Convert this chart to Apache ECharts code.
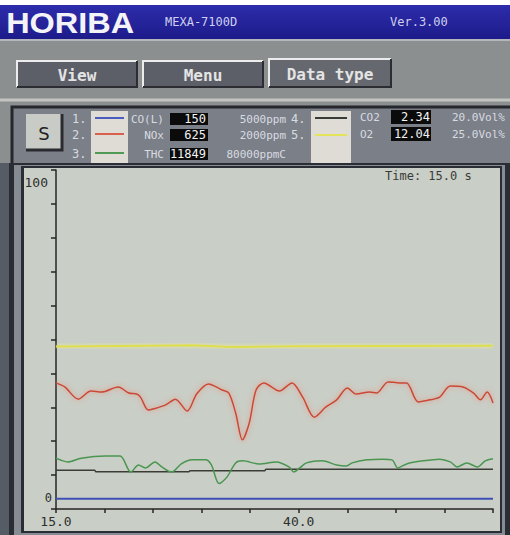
<!DOCTYPE html>
<html>
<head>
<meta charset="utf-8">
<script src="https://cdn.jsdelivr.net/npm/echarts@6/dist/echarts.min.js"></script>
<style>
  html, body { margin: 0; padding: 0; background: #ffffff; }
  #c { width: 510px; height: 535px; }
</style>
</head>
<body>
<div id="c"></div>
<script>
// Channel readouts shown in the header panel
const channelNames = ['CO(L)', 'NOx', 'THC', 'CO2', 'O2'];
const channelReadings = ['150', '625', '11849', '2.34', '12.04'];
const channelRanges = ['5000ppm', '2000ppm', '80000ppmC', '20.0Vol%', '25.0Vol%'];

// Axis tick labels
const xTickLabels = [15, 40];
const yTickLabels = [0, 100];

// Traces: elapsed time (s) and value in % of the channel's full scale
const coTime = [15, 60];
const coValue = [3, 3];

const noxTime = [15.0, 15.9, 17.3, 18.6, 19.7, 21.4, 22.5, 23.3, 23.7, 24.5, 25.0, 26.3, 27.3, 28.5, 29.5,
                 30.7, 32.1, 32.8, 33.5, 34.2, 34.9, 35.6, 36.4, 38.0, 39.3, 40.4, 41.6, 42.8, 43.9, 45.0,
                 45.9, 47.3, 48.0, 49.2, 50.4, 51.1, 52.3, 53.5, 54.5, 55.6, 56.9, 58.0, 58.7, 59.4, 60.0];
const noxValue = [37.2, 36.0, 32.4, 34.8, 34.5, 36.0, 34.2, 33.9, 33.0, 29.2, 29.5, 30.7, 32.4, 28.9, 34.0,
                  36.9, 35.1, 34.2, 28.3, 20.4, 25.4, 35.1, 37.2, 34.8, 37.2, 33.0, 27.1, 30.1, 32.2, 35.7,
                  33.9, 34.5, 34.2, 37.5, 37.2, 37.2, 31.6, 32.2, 33.0, 36.3, 36.0, 34.2, 32.2, 34.5, 31.25];

const thcTime = [15.0, 16.2, 17.6, 20.1, 21.6, 22.7, 23.5, 24.2, 25.2, 25.9, 26.9, 27.9, 29.0, 30.4, 31.0,
                 31.8, 32.6, 33.5, 34.2, 35.9, 37.7, 39.0, 39.5, 40.1, 40.8, 42.4, 43.9, 44.9, 45.5, 47.0,
                 48.6, 49.6, 50.2, 51.1, 52.8, 54.5, 55.6, 56.3, 57.3, 58.4, 59.2, 60.0];
const thcValue = [15.0, 13.9, 15.0, 15.6, 15.6, 10.9, 13.0, 12.1, 13.9, 12.4, 10.9, 13.3, 14.5, 14.5, 13.0,
                  7.5, 9.4, 13.6, 14.2, 13.3, 13.9, 12.4, 10.9, 12.1, 13.6, 14.2, 13.0, 12.7, 13.6, 14.5,
                  14.7, 14.5, 12.1, 13.3, 14.2, 14.7, 13.9, 12.4, 13.6, 12.4, 14.2, 14.8];

const co2Time = [15.0, 19.0, 19.1, 28.7, 28.8, 36.5, 36.6, 60.0];
const co2Value = [11.4, 11.4, 11.0, 11.0, 11.3, 11.3, 11.7, 11.7];

const o2Time = [15.0, 22.0, 29.0, 33.0, 40.0, 50.0, 60.0];
const o2Value = [47.9, 48.1, 48.3, 47.8, 48.0, 48.1, 48.16];

const pairs = (t, v) => t.map((x, i) => [x, v[i]]);

const MONO = "'DejaVu Sans Mono', monospace";

// ---------- screen furniture ----------
const g = [];
const rect = (x, y, w, h, fill, extra) => g.push(Object.assign({ type: 'rect', shape: { x, y, width: w, height: h }, style: { fill }, silent: true }, extra || {}));
const text = (x, y, str, st, extra) => g.push(Object.assign({ type: 'text', x, y, silent: true,
  style: Object.assign({ text: str, fill: '#d8dbe2', font: '11px ' + MONO, textVerticalAlign: 'middle', verticalAlign: 'middle' }, st || {}) }, extra || {}));
const line = (x1, y1, x2, y2, stroke, w) => g.push({ type: 'line', silent: true, shape: { x1, y1, x2, y2 }, style: { stroke, lineWidth: w } });

// title bar
rect(0, 5, 510, 34, new echarts.graphic.LinearGradient(0, 0, 0, 1, [
  { offset: 0, color: '#2d2cab' }, { offset: 1, color: '#1d1b8a' }]));
text(7, 23, 'HORIBA', { fill: '#f4f4f8', font: "bold 29px 'Liberation Sans', sans-serif" }, { scaleX: 1.12, originX: 7, originY: 23 });
text(165, 22, 'MEXA-7100D', { fill: '#cfd0ee', font: '12px ' + MONO });
text(390, 22, 'Ver.3.00', { fill: '#cfd0ee', font: '12px ' + MONO });

// menu strip
rect(0, 39, 510, 126, '#8b8f8f');
line(0, 40, 510, 40, '#b4b6bc', 2);
line(0, 100, 510, 100, '#c2c4c2', 3);

function button(x, y, w, h, label, fill) {
  rect(x, y, w, h, fill);
  g.push({ type: 'polyline', silent: true, shape: { points: [[x, y + h], [x, y], [x + w, y]] }, style: { stroke: '#ececec', lineWidth: 2, fill: null } });
  g.push({ type: 'polyline', silent: true, shape: { points: [[x + w, y], [x + w, y + h], [x, y + h]] }, style: { stroke: '#2c2d33', lineWidth: 2, fill: null } });
  text(x + w / 2, y + h / 2 + 1, label, { fill: '#e4e4e4', font: 'bold 16px ' + MONO, align: 'center', textAlign: 'center' });
}
button(17, 61, 120, 26, 'View', '#5d5f68');
button(143, 61, 120, 26, 'Menu', '#5d5f68');
button(269, 59, 122, 28, 'Data type', '#666870');

// channel panel
rect(12, 107, 500, 58, '#7b7f87', { style: { fill: '#7b7f87', stroke: '#25272d', lineWidth: 3 } });
rect(26, 114, 36, 36, '#c9ccc6');
g.push({ type: 'polyline', silent: true, shape: { points: [[62, 114], [62, 150], [26, 150]] }, style: { stroke: '#2a2b30', lineWidth: 3, fill: null } });
text(44, 133, 'S', { fill: '#222', font: "18px 'DejaVu Sans', sans-serif", align: 'center', textAlign: 'center' });

const swatchColors = ['#4a5cc0', '#d9604c', '#4f9a55', '#3a3a36', '#e4e45a'];
rect(91, 111, 37, 52, '#dedcd5');
rect(311, 111, 40, 52, '#dedcd5');
const rowA = [119, 135, 154];
for (let i = 0; i < 3; i++) {
  const y = rowA[i];
  text(72, y, (i + 1) + '.', { font: '12px ' + MONO });
  line(95, y - 1, 124, y - 1, swatchColors[i], 2);
  text(164, y, channelNames[i], { align: 'right', textAlign: 'right' });
  rect(170, y - 6, 38, 12, '#0b0b0b');
  text(206, y, channelReadings[i], { fill: '#f2f2f2', font: '12px ' + MONO, align: 'right', textAlign: 'right' });
  text(286, y, channelRanges[i], { align: 'right', textAlign: 'right' });
}
const rowB = [117, 134];
for (let i = 0; i < 2; i++) {
  const y = rowB[i];
  text(291, rowA[i], (i + 4) + '.', { font: '12px ' + MONO });
  line(315, y + 1, 347, y + 1, swatchColors[3 + i], 2);
  text(360, y, channelNames[3 + i], {});
  rect(391, y - 7, 40, 14, '#0b0b0b');
  text(430, y, channelReadings[3 + i], { fill: '#f2f2f2', font: '12px ' + MONO, align: 'right', textAlign: 'right' });
  text(452, y, channelRanges[3 + i], {});
}

// chart frame
rect(0, 163, 510, 372, '#565c66');
rect(9, 163, 501, 372, '#2a2d34');
rect(14, 165, 491, 370, '#868c94');
rect(21, 166, 481, 367, '#2a2d34');
rect(24, 168, 476, 363, '#c9cec6');
text(385, 176, 'Time: 15.0 s', { fill: '#3a3a3a', font: '12px ' + MONO });

// ---------- chart ----------
const chart = echarts.init(document.getElementById('c'), null, { renderer: 'svg' });
chart.setOption({
  animation: false,
  backgroundColor: 'transparent',
  graphic: { elements: g },
  grid: { left: 56, right: 17, top: 170, bottom: 26 },
  xAxis: {
    type: 'value', min: 15, max: 60, interval: 5,
    axisLine: { lineStyle: { color: '#262626', width: 1.5 } },
    axisTick: { length: 4, lineStyle: { color: '#262626', width: 1.5 } },
    splitLine: { show: false },
    axisLabel: {
      margin: 6, color: '#2e2e2e', fontSize: 13, fontFamily: MONO,
      formatter: v => xTickLabels.includes(v) ? v.toFixed(1) : ''
    }
  },
  yAxis: {
    type: 'value', min: 0, max: 100, interval: 10,
    axisLine: { show: true, lineStyle: { color: '#262626', width: 1.5 } },
    axisTick: { show: true, length: 5, lineStyle: { color: '#262626', width: 1.5 } },
    splitLine: { show: false },
    axisLabel: {
      margin: 4, color: '#2e2e2e', fontSize: 12, fontFamily: MONO,
      formatter: v => !yTickLabels.includes(v) ? '' : (v === 100 ? '{top|' + v + '}' : '{bot|' + v + '}'),
      rich: {
        top: { padding: [24, 4, 0, 0], fontSize: 13, fontFamily: MONO, color: '#2e2e2e' },
        bot: { padding: [0, 0, 22, 0], fontSize: 12, fontFamily: MONO, color: '#2e2e2e' }
      }
    }
  },
  series: [
    { name: 'CO(L)', type: 'line', data: pairs(coTime, coValue), showSymbol: false,
      lineStyle: { color: '#3e50b6', width: 2 } },
    { name: 'CO2', type: 'line', data: pairs(co2Time, co2Value), showSymbol: false,
      lineStyle: { color: '#3b3c36', width: 1.5 } },
    { name: 'THC', type: 'line', data: pairs(thcTime, thcValue), showSymbol: false, smooth: 0.3,
      lineStyle: { color: '#4a9650', width: 1.5 } },
    { name: 'O2', type: 'line', data: pairs(o2Time, o2Value), showSymbol: false,
      lineStyle: { color: '#dede4e', width: 2, shadowColor: 'rgba(245,245,140,0.9)', shadowBlur: 4 } },
    { name: 'NOx', type: 'line', data: pairs(noxTime, noxValue), showSymbol: false, smooth: 0.3,
      lineStyle: { color: '#c94835', width: 1.5, shadowColor: 'rgba(245,130,110,0.9)', shadowBlur: 5 } }
  ]
});
</script>
</body>
</html>
